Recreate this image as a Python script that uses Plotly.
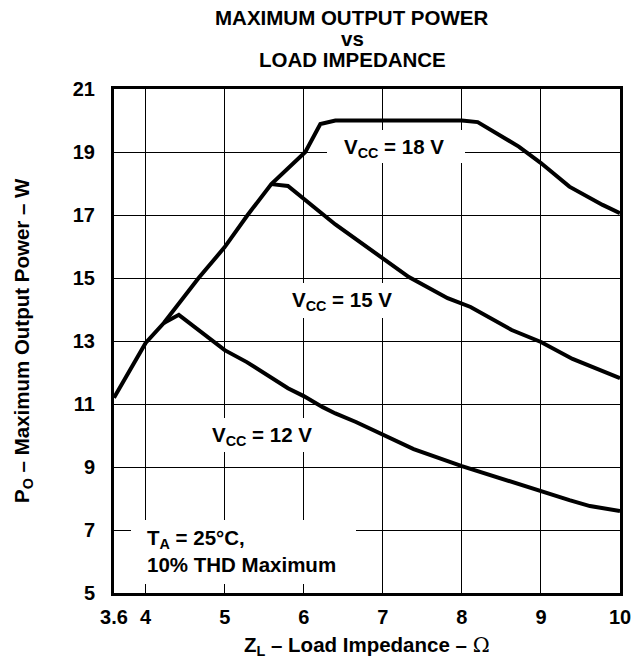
import plotly.graph_objects as go

# ---- data ----
z_18 = [3.6, 4.0, 4.23, 4.67, 5.0, 5.29, 5.59, 6.02, 6.21, 6.4, 8.0, 8.2, 8.72, 9.0, 9.36, 9.78, 10.0]
p_18 = [11.2, 12.94, 13.57, 15.0, 15.98, 17.0, 17.98, 19.0, 19.89, 20.0, 20.0, 19.95, 19.17, 18.65, 17.9, 17.32, 17.06]

z_15 = [5.59, 5.8, 6.4, 7.0, 7.33, 7.82, 8.11, 8.63, 9.0, 9.4, 9.66, 10.0]
p_15 = [17.98, 17.92, 16.7, 15.63, 15.03, 14.36, 14.08, 13.35, 12.97, 12.43, 12.17, 11.82]

z_12 = [4.23, 4.42, 5.0, 5.28, 5.8, 6.0, 6.24, 6.4, 6.66, 7.0, 7.39, 8.0, 8.63, 9.0, 9.36, 9.62, 10.0]
p_12 = [13.57, 13.83, 12.71, 12.33, 11.5, 11.25, 10.9, 10.7, 10.43, 10.02, 9.57, 9.03, 8.52, 8.23, 7.95, 7.76, 7.60]

x_ticks = [3.6, 4, 5, 6, 7, 8, 9, 10]
x_tick_text = ["3.6", "4", "5", "6", "7", "8", "9", "10"]
y_ticks = [5, 7, 9, 11, 13, 15, 17, 19, 21]

title_lines = ["MAXIMUM OUTPUT POWER", "vs", "LOAD IMPEDANCE"]
x_title = "Z<sub>L</sub> – Load Impedance – <span style='font-family:DejaVu Serif;font-weight:normal'>Ω</span>"
y_title = "P<sub>O</sub> – Maximum Output Power – W"

# ---- layout geometry (pixels) ----
W, H = 644, 664
L, R, T, B = 114, 620, 89, 593
XMIN, XMAX, YMIN, YMAX = 3.6, 10.0, 5.0, 21.0
FONT = "Liberation Sans, Arial, sans-serif"
FS = 20.5


def px_x(px):
    return XMIN + (px - L) * (XMAX - XMIN) / (R - L)


def px_y(py):
    return YMAX - (py - T) * (YMAX - YMIN) / (B - T)


def paper_x(px):
    return (px - L) / (R - L)


def paper_y(py):
    return (B - py) / (B - T)


fig = go.Figure()
line = dict(color="black", width=4)
for zx, py_ in [(z_18, p_18), (z_15, p_15), (z_12, p_12)]:
    fig.add_trace(go.Scatter(x=zx, y=py_, mode="lines", line=line,
                             showlegend=False, hoverinfo="skip"))

# white boxes that interrupt the grid behind the labels
boxes = [(327, 130, 465, 163), (280, 283, 402, 318), (198, 418, 325, 452), (131, 520, 356, 584)]
shapes = []
for x0, y0, x1, y1 in boxes:
    shapes.append(dict(type="rect", xref="x", yref="y", layer="between",
                       x0=px_x(x0), x1=px_x(x1), y0=px_y(y1), y1=px_y(y0),
                       fillcolor="white", line=dict(width=0)))

annotations = []


def txt(text, px, py, xanchor="center", yanchor="middle", size=FS, angle=0, align="center"):
    annotations.append(dict(text="<b>" + text + "</b>", xref="paper", yref="paper",
                            x=paper_x(px), y=paper_y(py), xanchor=xanchor, yanchor=yanchor,
                            showarrow=False, textangle=angle, align=align,
                            font=dict(family=FONT, size=size, color="black")))


txt("V<sub>CC</sub> = 18 V", 394, 148)
txt("V<sub>CC</sub> = 15 V", 342, 301)
txt("V<sub>CC</sub> = 12 V", 262, 436)
txt("T<sub>A</sub> = 25°C,<br>10% THD Maximum", 145, 551, xanchor="left", align="left")

# title lines
for t_, yy in zip(title_lines, [17, 39, 60]):
    txt(t_, 352, yy)

# axis titles
txt(x_title, 367, 646)
txt(y_title, 23, (T + B) / 2, angle=-90)

fig.update_layout(
    width=W, height=H,
    margin=dict(l=L, r=W - R, t=T, b=H - B, pad=0),
    paper_bgcolor="white", plot_bgcolor="white",
    shapes=shapes, annotations=annotations,
    font=dict(family=FONT, size=FS, color="black"),
)
fig.update_xaxes(range=[XMIN, XMAX], tickvals=x_ticks, ticktext=["<b>%s</b>" % t for t in x_tick_text],
                 showgrid=True, gridcolor="black", gridwidth=1, zeroline=False,
                 showline=True, linecolor="black", linewidth=3, mirror=True,
                 ticks="", ticklabelstandoff=4, tickfont=dict(family=FONT, size=20))
fig.update_yaxes(range=[YMIN, YMAX], tickvals=y_ticks, ticktext=["<b>%d</b>" % v for v in y_ticks],
                 showgrid=True, gridcolor="black", gridwidth=1, zeroline=False,
                 showline=True, linecolor="black", linewidth=3, mirror=True,
                 ticks="", ticklabelstandoff=12, tickfont=dict(family=FONT, size=20))

fig.write_html("out.html", config={"displayModeBar": False, "staticPlot": True},
               post_script="document.body.style.margin='0';document.body.style.overflow='hidden';")
